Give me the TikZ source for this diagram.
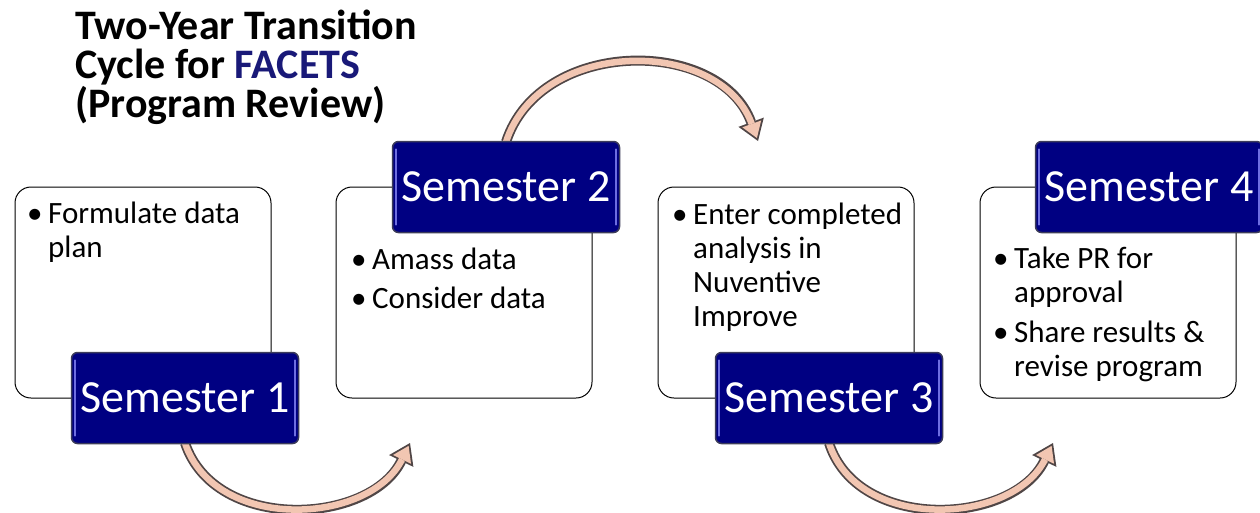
\documentclass[tikz,border=0pt]{standalone}
\usepackage{fontspec}
\setmainfont{Carlito}
\usetikzlibrary{arrows.meta}
\definecolor{navybox}{RGB}{0,0,130}
\definecolor{navyedge}{RGB}{60,60,90}
\definecolor{navyglow}{RGB}{110,110,225}
\definecolor{titleblue}{RGB}{25,25,120}
\definecolor{arrowfill}{RGB}{242,198,178}
\definecolor{arrowedge}{RGB}{80,70,70}
\newcommand{\bitem}[1]{\makebox[21pt][l]{\textbullet}#1}
\newcommand{\cont}{\hspace*{21pt}}
\begin{document}
\begin{tikzpicture}[x=1pt,y=-1pt,
  wbox/.style={draw=black, line width=1pt, fill=white, rounded corners=16pt,
    minimum width=256pt, minimum height=211pt, inner sep=0pt},
  sembox/.style={draw=navyedge, line width=1.5pt, fill=navybox, rounded corners=6pt,
    minimum width=227pt, minimum height=91pt, inner sep=0pt, text=white,
    font=\fontsize{46}{50}\selectfont,
    path picture={
      \draw[navyglow, line width=2.2pt, line cap=round]
        ([shift={(3.5pt,-8pt)}]path picture bounding box.north west) --
        ([shift={(3.5pt,8pt)}]path picture bounding box.south west);
      \draw[navyglow, line width=2.2pt, line cap=round]
        ([shift={(-3.5pt,-8pt)}]path picture bounding box.north east) --
        ([shift={(-3.5pt,8pt)}]path picture bounding box.south east);
    }},
  bullets/.style={anchor=north west, inner sep=0pt, align=left,
    font=\fontsize{31}{34}\selectfont},
  bigarrow/.style={line width=10pt, draw=arrowedge,
    -{Triangle[length=20pt,width=27pt,line width=0pt 0]},
    postaction={draw=arrowfill, line width=6.5pt,
      -{Triangle[length=15pt,width=20pt,line width=0pt 0]}, shorten >=3.2pt}},
]
\useasboundingbox (0,0) rectangle (1260,512);
\fill[white] (0,0) rectangle (1260,512);

% title
\node[anchor=north west, inner sep=0pt, align=left,
  font=\bfseries\fontsize{42}{39}\selectfont] (title) at (75,10)
  {Two-Year Transition\\Cycle for \textcolor{titleblue}{FACETS}\\(Program Review)};

% free arrow ends
\coordinate (t1) at (410,443);
\coordinate (t2) at (758,141);
\coordinate (t3) at (1053,443);

% white boxes
\node[wbox] (b1) at (143,292.5) {};
\node[wbox] (b2) at (464,292.5) {};
\node[wbox] (b3) at (786,292.5) {};
\node[wbox] (b4) at (1108,292.5) {};

% semester 4 box (no arrow behind it)
\node[sembox] (s4) at (1149,187) {Semester 4};

% arrow start points on the edges of the semester boxes
\coordinate (s1s) at (185,443);
\coordinate (s2n) at (506,142);
\coordinate (s3s) at (829,443);

% arrows
\draw[bigarrow] (s1s) .. controls (215,533) and (370,525) .. (t1);
\draw[bigarrow] (s2n) .. controls (540,37) and (720,37) .. (t2);
\draw[bigarrow] (s3s) .. controls (858,533) and (1013,525) .. (t3);

% semester boxes on top of arrow starts
\node[sembox] (s1) at (185,398) {Semester 1};
\node[sembox] (s2) at (506,187) {Semester 2};
\node[sembox] (s3) at (829,398) {Semester 3};

% bullet texts
\node[bullets] (x1) at (27,202)
  {\bitem{Formulate data}\\\cont plan};
\node[bullets] (x2) at (351,248)
  {\bitem{Amass data}\\[5pt]\bitem{Consider data}};
\node[bullets] (x3) at (672,203)
  {\bitem{Enter completed}\\\cont analysis in\\\cont Nuventive\\\cont Improve};
\node[bullets] (x4) at (993,247)
  {\bitem{Take PR for}\\\cont approval\\[6pt]\bitem{Share results \&}\\\cont revise program};
\end{tikzpicture}
\end{document}
